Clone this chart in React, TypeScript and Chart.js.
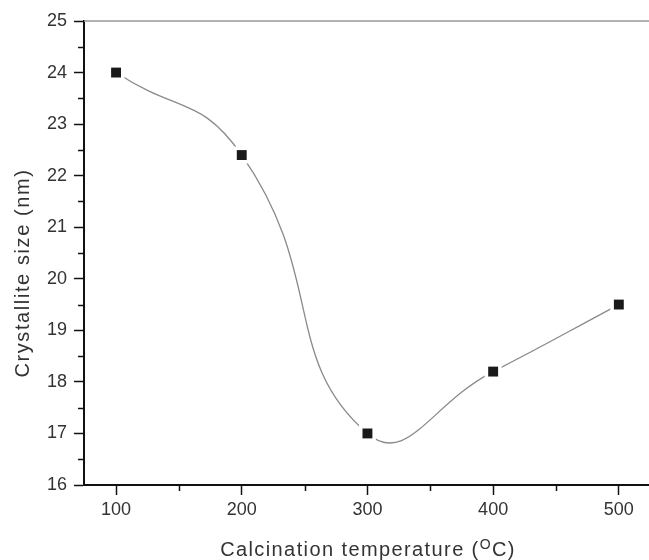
import React, { useEffect, useRef } from "react";
import { Chart, registerables } from "chart.js";

Chart.register(...registerables);

const temperatures = [100, 200, 300, 400, 500];
const crystalliteSize = [24.0, 22.4, 17.0, 18.2, 19.5];
const xMajorTicks = [100, 200, 300, 400, 500];
const xMinorTicks = [150, 250, 350, 450];
const yMajorTicks = [16, 17, 18, 19, 20, 21, 22, 23, 24, 25];
const yMinorTicks = [16.5, 17.5, 18.5, 19.5, 20.5, 21.5, 22.5, 23.5, 24.5];
const xTitleMain = "Calcination temperature (";
const xTitleSup = "O";
const xTitleEnd = "C)";
const yTitleText = "Crystallite size (nm)";

const FONT = "'Liberation Sans', Arial, Helvetica, sans-serif";
const TEXT_COLOR = "#333333";

const framePlugin = {
  id: "framePlugin",
  afterDraw(chart: any) {
    const { ctx, chartArea, scales } = chart;
    const xs = scales.x;
    const ys = scales.y;
    ctx.save();
    // top frame line
    ctx.strokeStyle = "#9a9a9a";
    ctx.lineWidth = 1.5;
    ctx.beginPath();
    ctx.moveTo(chartArea.left, chartArea.top);
    ctx.lineTo(chart.width, chartArea.top);
    ctx.stroke();
    // minor ticks
    ctx.strokeStyle = "#111111";
    ctx.lineWidth = 1.5;
    ctx.beginPath();
    yMinorTicks.forEach((v) => {
      const y = Math.round(ys.getPixelForValue(v)) + 0.5;
      ctx.moveTo(chartArea.left - 6, y);
      ctx.lineTo(chartArea.left, y);
    });
    xMinorTicks.forEach((v) => {
      const x = Math.round(xs.getPixelForValue(v)) + 0.5;
      ctx.moveTo(x, chartArea.bottom);
      ctx.lineTo(x, chartArea.bottom + 6);
    });
    ctx.stroke();

    // x title with superscript
    const mainFont = `20px ${FONT}`;
    const supFont = `14px ${FONT}`;
    ctx.fillStyle = TEXT_COLOR;
    ctx.textBaseline = "alphabetic";
    ctx.textAlign = "left";
    (ctx as any).letterSpacing = "1.4px";
    ctx.font = mainFont;
    const w1 = ctx.measureText(xTitleMain).width;
    const w3 = ctx.measureText(xTitleEnd).width;
    ctx.font = supFont;
    const w2 = ctx.measureText(xTitleSup).width;
    const total = w1 + w2 + w3;
    const cx = 368;
    const baseY = 556;
    let x0 = cx - total / 2;
    ctx.font = mainFont;
    ctx.fillText(xTitleMain, x0, baseY);
    x0 += w1;
    ctx.font = supFont;
    ctx.fillText(xTitleSup, x0, baseY - 7);
    x0 += w2;
    ctx.font = mainFont;
    ctx.fillText(xTitleEnd, x0, baseY);

    // y title
    ctx.save();
    ctx.translate(29, 273);
    ctx.rotate(-Math.PI / 2);
    ctx.textAlign = "center";
    ctx.textBaseline = "alphabetic";
    (ctx as any).letterSpacing = "1.6px";
    ctx.font = mainFont;
    ctx.fillText(yTitleText, 0, 0);
    ctx.restore();
    ctx.restore();
  },
};

export default function App() {
  const canvasRef = useRef<HTMLCanvasElement | null>(null);

  useEffect(() => {
    const canvas = canvasRef.current;
    if (!canvas) return;
    const points = temperatures.map((t, i) => ({ x: t, y: crystalliteSize[i] }));
    const chart = new Chart(canvas, {
      type: "line",
      data: {
        datasets: [
          {
            label: "markers",
            data: points,
            showLine: false,
            pointStyle: "rect",
            pointRadius: 7,
            pointHoverRadius: 7,
            pointBackgroundColor: "#1a1a1a",
            pointBorderWidth: 0,
            borderWidth: 0,
          },
          {
            label: "curve",
            data: points,
            borderColor: "#8a8a8a",
            borderWidth: 1.3,
            tension: 0.5,
            fill: false,
            pointStyle: "rect",
            pointRadius: 12,
            pointHoverRadius: 12,
            pointBackgroundColor: "#ffffff",
            pointBorderWidth: 0,
          },
        ],
      },
      options: {
        animation: false,
        responsive: false,
        events: [],
        layout: { autoPadding: false, padding: { top: 21, right: 0, left: 0, bottom: 0 } },
        plugins: {
          legend: { display: false },
          tooltip: { enabled: false },
        },
        scales: {
          x: {
            type: "linear",
            min: 74.5,
            max: 524,
            afterBuildTicks: (scale: any) => {
              scale.ticks = xMajorTicks.map((v) => ({ value: v }));
            },
            afterFit: (scale: any) => {
              scale.height = 75;
              scale.paddingRight = 0;
              scale.paddingLeft = 0;
            },
            border: { display: true, color: "#111111", width: 2 },
            grid: {
              drawOnChartArea: false,
              drawTicks: true,
              tickLength: 10,
              tickColor: "#111111",
              tickWidth: 1.5,
            },
            ticks: {
              color: TEXT_COLOR,
              font: { family: FONT, size: 18 },
              padding: 4,
              maxRotation: 0,
              autoSkip: false,
              callback: (v: any) => String(v),
            },
          },
          y: {
            type: "linear",
            min: 16,
            max: 25,
            afterBuildTicks: (scale: any) => {
              scale.ticks = yMajorTicks.map((v) => ({ value: v }));
            },
            afterFit: (scale: any) => {
              scale.width = 84;
              scale.paddingTop = 0;
              scale.paddingBottom = 0;
            },
            border: { display: true, color: "#111111", width: 2 },
            grid: {
              drawOnChartArea: false,
              drawTicks: true,
              tickLength: 10,
              tickColor: "#111111",
              tickWidth: 1.5,
            },
            ticks: {
              color: TEXT_COLOR,
              font: { family: FONT, size: 18 },
              padding: 7,
              autoSkip: false,
              callback: (v: any) => String(v),
            },
          },
        },
      },
      plugins: [framePlugin],
    });
    return () => chart.destroy();
  }, []);

  return (
    <div
      style={{
        position: "fixed",
        left: 0,
        top: 0,
        width: 649,
        height: 560,
        background: "#ffffff",
      }}
    >
      <canvas ref={canvasRef} width={649} height={560} />
    </div>
  );
}
